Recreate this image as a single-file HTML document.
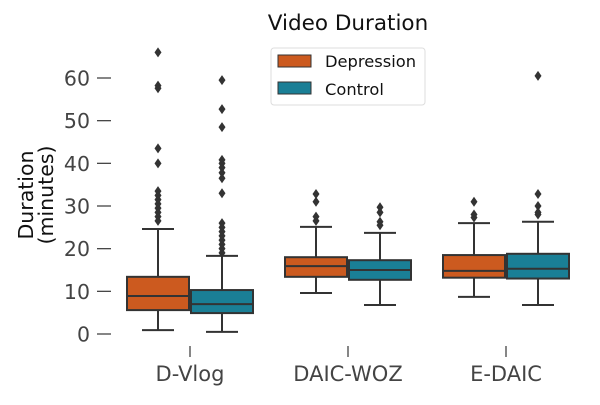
<!DOCTYPE html>
<html><head><meta charset="utf-8"><style>
body{margin:0;background:#fff}
svg{font-family:"DejaVu Sans","Liberation Sans",sans-serif}
</style></head><body>
<svg id="c" width="600" height="400">
<text x="348" y="30" text-anchor="middle" font-size="21.5" fill="#111">Video Duration</text>
<text transform="translate(33,195) rotate(-90)" text-anchor="middle" font-size="20.5" fill="#111"><tspan x="0" dy="0">Duration</tspan><tspan x="0" dy="20">(minutes)</tspan></text>
<g id="axes"></g><g id="marks"></g>
<g>
<rect x="271" y="48" width="154" height="57" rx="3" fill="#fff" stroke="#ddd"/>
<rect x="278" y="55" width="33" height="12" fill="#cc5a1f" stroke="#333"/>
<text x="325" y="67" font-size="16.3" fill="#111">Depression</text>
<rect x="278" y="82" width="33" height="12" fill="#1a7f96" stroke="#333"/>
<text x="325" y="95" font-size="16.3" fill="#111">Control</text>
</g>
</svg>
<script>
const categories=["D-Vlog","DAIC-WOZ","E-DAIC"];
const series=["Depression","Control"];
const yTicks=[0,10,20,30,40,50,60];
// [whiskerLow, q1, median, q3, whiskerHigh]
const depressionStats=[[0.9,5.6,8.9,13.4,24.6],[9.6,13.4,15.9,18.0,25.1],[8.7,13.2,14.8,18.5,26.0]];
const controlStats=[[0.5,4.9,7.0,10.3,18.3],[6.8,12.7,15.0,17.3,23.7],[6.8,13.0,15.3,18.8,26.3]];
const depressionOutliers=[[66,58.2,57.6,43.5,40,33.5,32.5,31.5,30.5,29.5,28.5,27.5,26.5],[32.8,31,27.5,26.5],[31,28,27.3]];
const controlOutliers=[[59.5,52.7,48.5,40.8,40,39,37.8,36.5,33,26,25,24,23,22,21,20,19],[29.7,28.5,26.3,25.5],[60.5,32.8,30,28.5,28]];
const colors=["#cc5a1f","#1a7f96"];
const NS="http://www.w3.org/2000/svg";
function y(v){return 334-v*(256/60);}
function x(i){return 190+i*158;}
function mk(tag,a,p){const e=document.createElementNS(NS,tag);for(const k in a)e.setAttribute(k,a[k]);p.appendChild(e);return e;}
const ax=document.getElementById('axes'),mg=document.getElementById('marks');
yTicks.forEach(t=>{
 const l=mk('line',{x1:97,x2:111,y1:y(t),y2:y(t),stroke:'#444','stroke-width':1.3},ax);
 
 
 const tx=mk('text',{x:90,y:y(t)+7.5,'text-anchor':'end','font-size':20.5,fill:'#444'},ax);tx.textContent=t;
 
 
});
categories.forEach((c,i)=>{
 const l=mk('line',{x1:x(i),x2:x(i),y1:346,y2:357,stroke:'#444','stroke-width':1.3},ax);
 
 
 const tx=mk('text',{x:x(i),y:381,'text-anchor':'middle','font-size':21,fill:'#444'},ax);tx.textContent=c;
 
 
});
[depressionStats,controlStats].forEach((stats,s)=>{
 const outs=s?controlOutliers:depressionOutliers;
 stats.forEach((st,i)=>{
  const cx=x(i)+(s?32:-32),hw=31;
  const g=mk('g',{},mg);
  
  
  const st2={stroke:'#333','stroke-width':2};
  mk('line',Object.assign({x1:cx,x2:cx,y1:y(st[0]),y2:y(st[1])},st2),g);
  mk('line',Object.assign({x1:cx,x2:cx,y1:y(st[3]),y2:y(st[4])},st2),g);
  mk('line',Object.assign({x1:cx-16,x2:cx+16,y1:y(st[0]),y2:y(st[0])},st2),g);
  mk('line',Object.assign({x1:cx-16,x2:cx+16,y1:y(st[4]),y2:y(st[4])},st2),g);
  mk('rect',Object.assign({x:cx-hw,y:y(st[3]),width:hw*2,height:y(st[1])-y(st[3]),fill:colors[s]},st2),g);
  mk('line',Object.assign({x1:cx-hw,x2:cx+hw,y1:y(st[2]),y2:y(st[2])},st2),g);
  outs[i].forEach(v=>{
   const py=y(v);
   const d=mk('path',{d:`M${cx},${py-5}L${cx+3.5},${py}L${cx},${py+5}L${cx-3.5},${py}Z`,fill:'#333'},g);
   
   
  });
 });
});
</script>
</body></html>
